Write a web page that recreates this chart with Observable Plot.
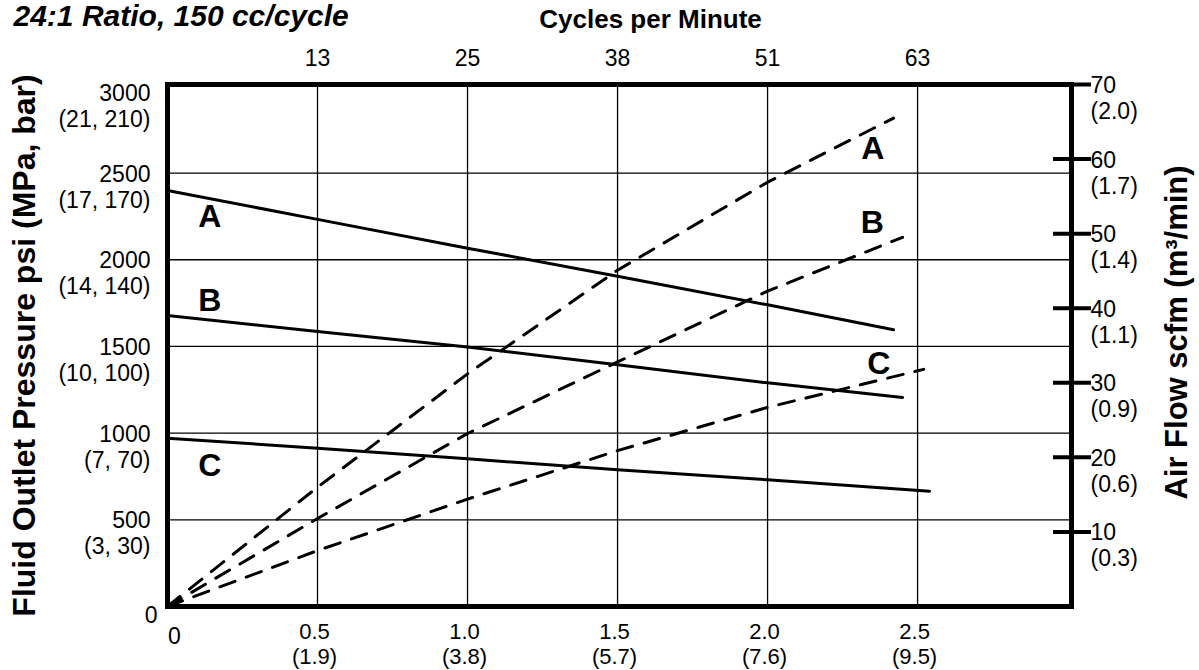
<!DOCTYPE html>
<html>
<head>
<meta charset="utf-8">
<script src="https://cdn.jsdelivr.net/npm/d3@7"></script>
<script src="https://cdn.jsdelivr.net/npm/@observablehq/plot@0.6"></script>
<style>
  body { margin: 0; background: #ffffff; }
  #chart svg { display: block; }
</style>
</head>
<body>
<div id="chart"></div>
<script>
// ---------------- data ----------------
const titleText = "24:1 Ratio, 150 cc/cycle";
const topAxisTitle = "Cycles per Minute";
const leftAxisTitle = "Fluid Outlet Pressure psi (MPa, bar)";
const rightAxisTitle = "Air Flow scfm (m³/min)";

const gpmTicks = [0.5, 1.0, 1.5, 2.0, 2.5];
const lpmLabels = ["(1.9)", "(3.8)", "(5.7)", "(7.6)", "(9.5)"];
const cyclesLabels = ["13", "25", "38", "51", "63"];

const psiTicks = [500, 1000, 1500, 2000, 2500, 3000];
const mpaBarLabels = ["(3, 30)", "(7, 70)", "(10, 100)", "(14, 140)", "(17, 170)", "(21, 210)"];

const scfmTicks = [10, 20, 30, 40, 50, 60, 70];
const m3minLabels = ["(0.3)", "(0.6)", "(0.9)", "(1.1)", "(1.4)", "(1.7)", "(2.0)"];

const gpmMax = 3.013;
const psiMax = 3011;
const scfmMax = 70;

// fluid outlet pressure (psi) vs fluid flow (gpm) — solid lines
const pressureA = [[0, 2400], [0.5, 2233], [1.0, 2067], [1.5, 1905], [2.0, 1740], [2.42, 1596]];
const pressureB = [[0, 1679], [0.5, 1586], [1.0, 1497], [1.5, 1394], [2.0, 1290], [2.45, 1206]];
const pressureC = [[0, 971], [0.5, 913], [1.0, 852], [1.5, 789], [2.0, 731], [2.54, 665]];

// air consumption (scfm) vs fluid flow (gpm) — dashed lines
const airA = [[0, 0], [0.5, 16.0], [1.0, 31.2], [1.5, 45.1], [2.0, 56.9], [2.42, 65.5]];
const airB = [[0, 0], [0.5, 11.8], [1.0, 23.2], [1.5, 32.8], [2.0, 42.3], [2.45, 49.5]];
const airC = [[0, 0], [0.5, 7.5], [1.0, 14.4], [1.5, 20.9], [2.0, 26.7], [2.52, 31.8]];

const curveNames = ["A", "B", "C"];
// curve letter positions: [gpm, psi] for pressure curves, [gpm, scfm] for air curves
const pressureLabelAt = [[0.141, 2246], [0.141, 1765], [0.141, 813]];
const airLabelAt = [[2.351, 61.4], [2.349, 51.5], [2.371, 32.6]];

// ---------------- chart ----------------
const FONT = "'Liberation Sans', Arial, Helvetica, sans-serif";
const k = psiMax / scfmMax; // right-axis units mapped onto the left (psi) scale

const leftRows = psiTicks.map((v, i) => ({psi: v, label: `${v}\n${mpaBarLabels[i]}`}));
const rightRows = scfmTicks.map((v, i) => ({psi: v * k, label: `${v}\n${m3minLabels[i]}`}));
const bottomRows = gpmTicks.map((v, i) => ({gpm: v, label: `${v.toFixed(1)}\n${lpmLabels[i]}`}));
const topRows = gpmTicks.map((v, i) => ({gpm: v, label: cyclesLabels[i]}));
const pLabels = curveNames.map((n, i) => ({gpm: pressureLabelAt[i][0], psi: pressureLabelAt[i][1], name: n}));
const aLabels = curveNames.map((n, i) => ({gpm: airLabelAt[i][0], psi: airLabelAt[i][1] * k, name: n}));

const tickFont = {fontFamily: FONT, fontSize: 23, fill: "black"};
const dash = "16,12";

const chart = Plot.plot({
  width: 1199,
  height: 670,
  marginLeft: 167,
  marginRight: 128,
  marginTop: 84,
  marginBottom: 64,
  style: {fontFamily: FONT, background: "white", color: "black", overflow: "visible"},
  x: {domain: [0, gpmMax], axis: null},
  y: {domain: [0, psiMax]},
  marks: [
    Plot.gridX(gpmTicks, {stroke: "black", strokeOpacity: 1, strokeWidth: 1.3}),
    Plot.gridY(psiTicks, {stroke: "black", strokeOpacity: 1, strokeWidth: 1.3}),
    Plot.frame({stroke: "black", strokeWidth: 5}),
    // right-axis tick marks crossing the frame
    Plot.axisY({anchor: "right", ticks: scfmTicks.map(v => v * k), tickSize: 38, dx: -19,
      strokeWidth: 4, stroke: "black", tickFormat: () => "", label: null}),

    // solid pressure curves
    Plot.line(pressureA, {x: d => d[0], y: d => d[1], stroke: "black", strokeWidth: 3}),
    Plot.line(pressureB, {x: d => d[0], y: d => d[1], stroke: "black", strokeWidth: 3}),
    Plot.line(pressureC, {x: d => d[0], y: d => d[1], stroke: "black", strokeWidth: 3}),
    // dashed air curves
    Plot.line(airA, {x: d => d[0], y: d => d[1] * k, stroke: "black", strokeWidth: 3, strokeDasharray: dash}),
    Plot.line(airB, {x: d => d[0], y: d => d[1] * k, stroke: "black", strokeWidth: 3, strokeDasharray: dash}),
    Plot.line(airC, {x: d => d[0], y: d => d[1] * k, stroke: "black", strokeWidth: 3, strokeDasharray: dash}),

    // curve letters
    Plot.text(pLabels, {x: "gpm", y: "psi", text: "name", fontFamily: FONT, fontSize: 32, fontWeight: "bold", fill: "black", lineAnchor: "middle"}),
    Plot.text(aLabels, {x: "gpm", y: "psi", text: "name", fontFamily: FONT, fontSize: 32, fontWeight: "bold", fill: "black", lineAnchor: "middle"}),

    // left tick labels
    Plot.text(leftRows.filter(d => d.psi < 3000), {y: "psi", text: "label", frameAnchor: "left", textAnchor: "end",
      lineAnchor: "top", lineHeight: 1.13, dx: -17, dy: -10, ...tickFont}),
    Plot.text(leftRows.filter(d => d.psi >= 3000), {y: "psi", text: "label", frameAnchor: "left", textAnchor: "end",
      lineAnchor: "top", lineHeight: 1.13, dx: -17, dy: -4, ...tickFont}),
    Plot.text([0], {y: d => d, text: d => String(d), frameAnchor: "left", textAnchor: "end",
      lineAnchor: "middle", dx: -10, dy: 9, ...tickFont}),

    // right tick labels
    Plot.text(rightRows, {y: "psi", text: "label", frameAnchor: "right", textAnchor: "start",
      lineAnchor: "top", lineHeight: 1.13, dx: 19, dy: -10, ...tickFont}),

    // bottom tick labels
    Plot.text(bottomRows, {x: "gpm", text: "label", frameAnchor: "bottom", textAnchor: "middle",
      lineAnchor: "top", lineHeight: 1.13, dx: -3, dy: 15, fontFamily: FONT, fontSize: 22, fill: "black"}),
    Plot.text([0], {x: d => d, text: d => String(d), frameAnchor: "bottom", textAnchor: "middle",
      lineAnchor: "top", dx: 7, dy: 21, ...tickFont}),

    // top tick labels (cycles per minute)
    Plot.text(topRows, {x: "gpm", text: "label", frameAnchor: "top", textAnchor: "middle",
      lineAnchor: "middle", dy: -26, ...tickFont}),

    // axis titles
    Plot.text([topAxisTitle], {text: d => d, frameAnchor: "top", textAnchor: "middle", lineAnchor: "middle",
      dx: 31, dy: -65, fontFamily: FONT, fontSize: 26, fontWeight: "bold", fill: "black"}),
    Plot.text([leftAxisTitle], {text: d => d, frameAnchor: "left", textAnchor: "middle", lineAnchor: "middle",
      rotate: -90, dx: -143, fontFamily: FONT, fontSize: 32, fontWeight: "bold", fill: "black"}),
    Plot.text([rightAxisTitle], {text: d => d, frameAnchor: "right", textAnchor: "middle", lineAnchor: "middle",
      rotate: -90, dx: 106, dy: -13, fontFamily: FONT, fontSize: 31, fontWeight: "bold", fill: "black"}),

    // chart title
    Plot.text([titleText], {text: d => d, frameAnchor: "top-left", textAnchor: "start", lineAnchor: "bottom",
      dx: -154, dy: -59, fontFamily: FONT, fontSize: 30, fontWeight: "bold", fontStyle: "italic", fill: "black"})
  ]
});

document.getElementById("chart").appendChild(chart);
</script>
</body>
</html>
